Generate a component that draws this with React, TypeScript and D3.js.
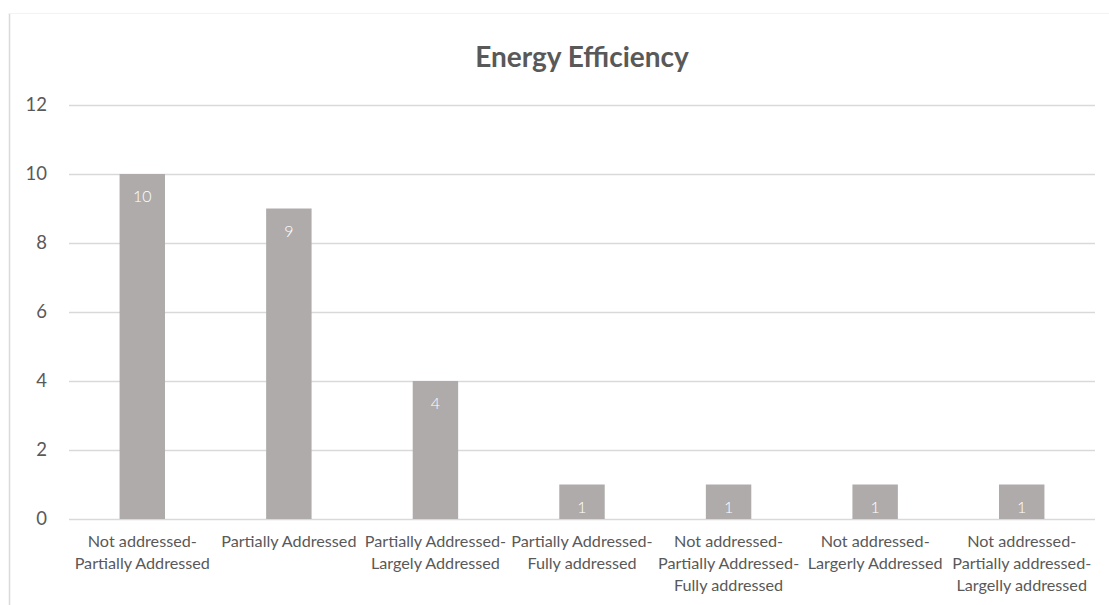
import React, { useEffect, useRef } from 'react'
import * as d3 from 'd3'

const categories = [
  'Not addressed-|Partially Addressed',
  'Partially Addressed',
  'Partially Addressed-|Largely Addressed',
  'Partially Addressed-|Fully addressed',
  'Not addressed-|Partially Addressed-|Fully addressed',
  'Not addressed-|Largerly Addressed',
  'Not addressed-|Partially addressed-|Largelly addressed',
]
const counts = [10, 9, 4, 1, 1, 1, 1]
const yTicks = [0, 2, 4, 6, 8, 10, 12]

const W = 1109
const H = 605
const FONT = 'Lato, "Open Sans", sans-serif'

const App: React.FC = () => {
  const svgRef = useRef<SVGSVGElement>(null)

  useEffect(() => {
    if (!svgRef.current) return
    const svg = d3.select(svgRef.current)
    svg.selectAll('*').remove()

    const plot = { left: 69, right: 1095, top: 105, bottom: 519 }

    const x = d3
      .scaleBand<number>()
      .domain(d3.range(categories.length))
      .range([plot.left, plot.right])
      .paddingInner(0.69)
      .paddingOuter(0.345)
    const y = d3.scaleLinear().domain([0, 12]).range([plot.bottom, plot.top])

    // chart border: left edge visible, top edge very faint
    svg
      .append('line')
      .attr('x1', 9.5).attr('x2', 9.5)
      .attr('y1', 13).attr('y2', H)
      .attr('stroke', '#d9d9d9')
      .attr('stroke-width', 1.5)
    svg
      .append('line')
      .attr('x1', 9).attr('x2', W)
      .attr('y1', 13.5).attr('y2', 13.5)
      .attr('stroke', '#f3f3f3')

    svg
      .append('text')
      .attr('x', 582)
      .attr('y', 67)
      .attr('text-anchor', 'middle')
      .attr('font-family', FONT)
      .attr('font-size', 28)
      .attr('font-weight', 'bold')
      .attr('fill', '#595959')
      .text('Energy Efficiency')

    const grid = svg.append('g')
    grid
      .selectAll('line')
      .data(yTicks)
      .join('line')
      .attr('x1', plot.left)
      .attr('x2', plot.right)
      .attr('y1', d => Math.round(y(d)) + 0.5)
      .attr('y2', d => Math.round(y(d)) + 0.5)
      .attr('stroke', '#d9d9d9')
      .attr('stroke-width', 1.3)

    grid
      .selectAll('text')
      .data(yTicks)
      .join('text')
      .attr('x', 47)
      .attr('y', d => y(d))
      .attr('dy', '0.35em')
      .attr('text-anchor', 'end')
      .attr('font-family', FONT)
      .attr('font-size', 18.5)
      .attr('fill', '#595959')
      .text(d => d)

    const bars = svg.append('g')
    bars
      .selectAll('rect')
      .data(counts)
      .join('rect')
      .attr('x', (_, i) => x(i)!)
      .attr('width', x.bandwidth())
      .attr('y', d => y(d))
      .attr('height', d => y(0) - y(d))
      .attr('fill', '#afabab')

    bars
      .selectAll('text')
      .data(counts)
      .join('text')
      .attr('x', (_, i) => x(i)! + x.bandwidth() / 2)
      .attr('y', d => y(d) + 28)
      .attr('text-anchor', 'middle')
      .attr('font-family', FONT)
      .attr('font-size', 16)
      .attr('font-weight', 300)
      .attr('fill', 'white')
      .text(d => d)

    const labels = svg.append('g')
    categories.forEach((c, i) => {
      const t = labels
        .append('text')
        .attr('text-anchor', 'middle')
        .attr('font-family', FONT)
        .attr('font-size', 16.2)
        .attr('fill', '#595959')
      c.split('|').forEach((line, j) => {
        t.append('tspan')
          .attr('x', x(i)! + x.bandwidth() / 2)
          .attr('y', 547 + j * 22)
          .text(line)
      })
    })
  }, [])

  return (
    <svg
      ref={svgRef}
      width={W}
      height={H}
      style={{ position: 'absolute', left: 0, top: 0, background: 'white' }}
    />
  )
}

export default App
